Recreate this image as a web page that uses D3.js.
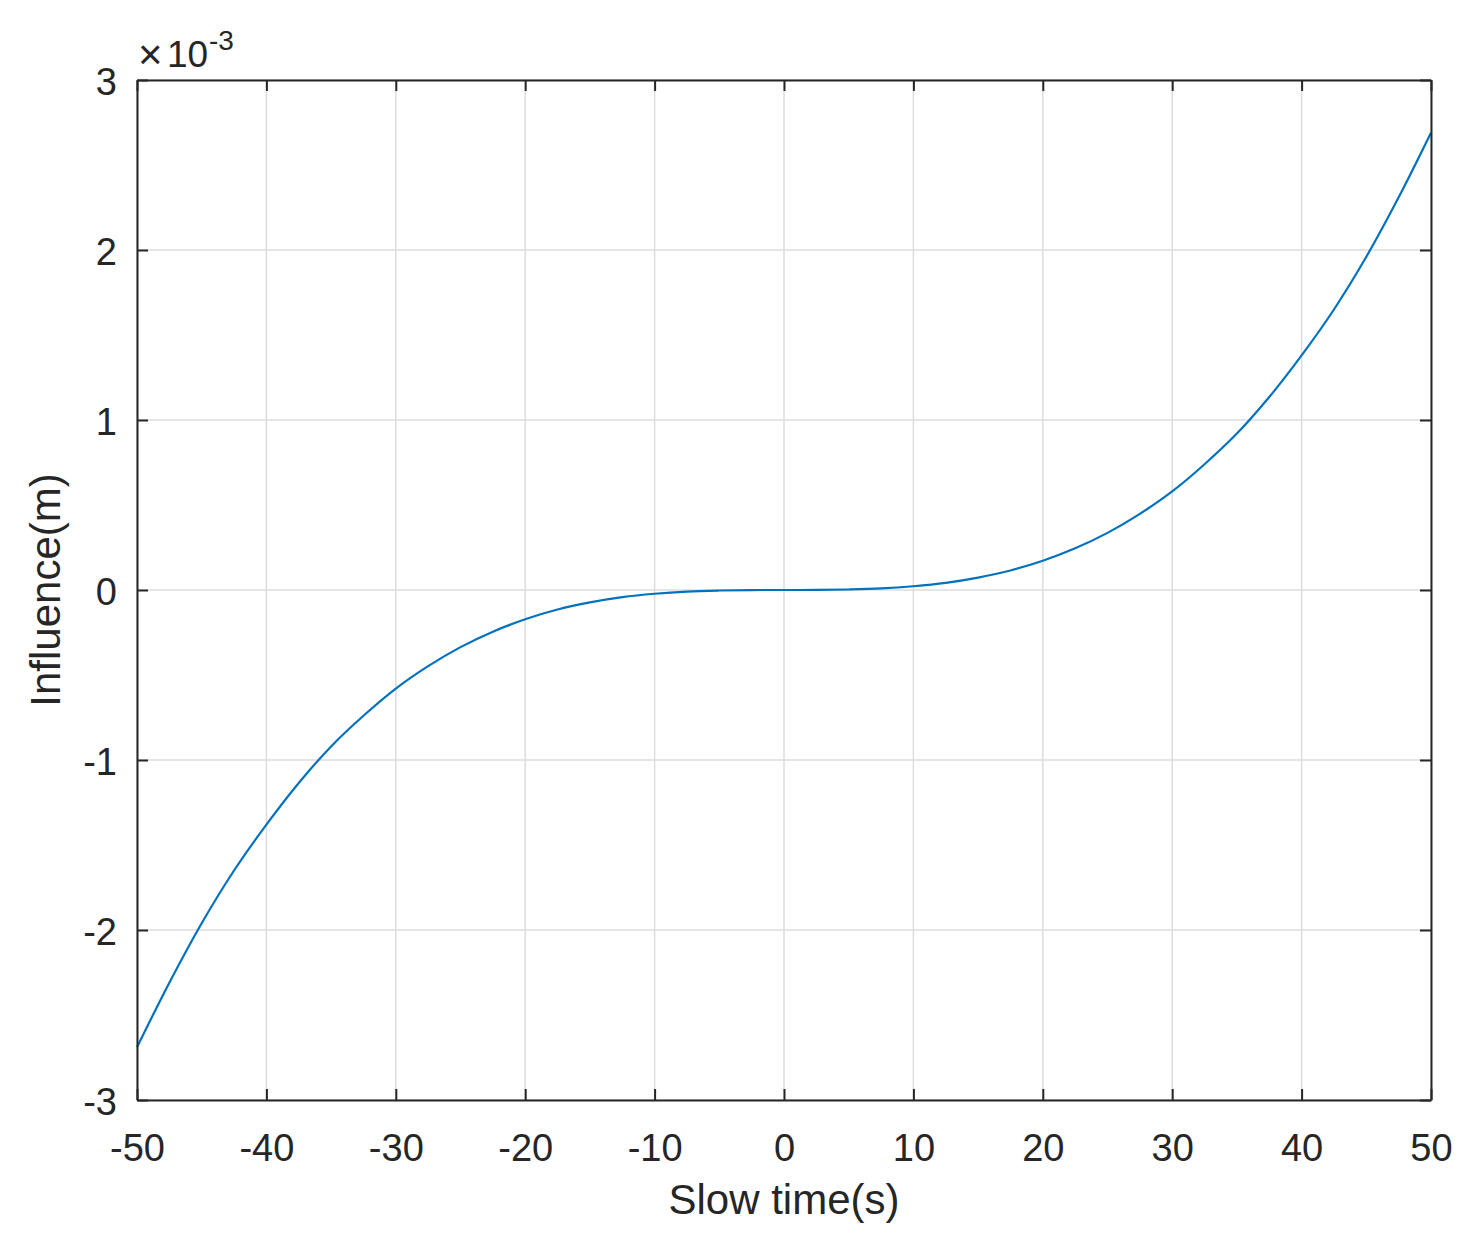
<!DOCTYPE html>
<html>
<head>
<meta charset="utf-8">
<script src="https://cdn.jsdelivr.net/npm/d3@7"></script>
<style>
  html, body { margin: 0; padding: 0; background: #fff; }
  svg { display: block; }
  text { font-family: "Liberation Sans", Arial, Helvetica, sans-serif; fill: #262626; }
</style>
</head>
<body>
<svg id="chart" width="1482" height="1240"></svg>
<script>
// Slow time (s)
const times = [-50, -47.5, -45, -42.5, -40, -37.5, -35, -32.5, -30, -27.5, -25, -22.5, -20, -17.5, -15, -12.5, -10, -7.5, -5, -2.5,
  0, 2.5, 5, 7.5, 10, 12.5, 15, 17.5, 20, 22.5, 25, 27.5, 30, 32.5, 35, 37.5, 40, 42.5, 45, 47.5, 50];
// Influence (×10^-3 m)
const influence = [-2.69, -2.31, -1.96, -1.65, -1.38, -1.135, -0.92, -0.74, -0.58, -0.448, -0.336, -0.245, -0.172, -0.115, -0.073, -0.042, -0.022, -0.009, -0.003, -0.0003,
  0, 0.0003, 0.003, 0.009, 0.022, 0.042, 0.073, 0.115, 0.172, 0.245, 0.336, 0.448, 0.58, 0.74, 0.92, 1.135, 1.38, 1.65, 1.96, 2.31, 2.69];
const xTicks = [-50, -40, -30, -20, -10, 0, 10, 20, 30, 40, 50];
const yTicks = [-3, -2, -1, 0, 1, 2, 3];

(function () {
const pL = 137, pR = 1431, pT = 80, pB = 1100;
const svg = d3.select("#chart");
const x = d3.scaleLinear().domain([-50, 50]).range([pL, pR]);
const y = d3.scaleLinear().domain([-3, 3]).range([pB, pT]);

const axisColor = "#262626";
const tickLen = 11;

// grid
const grid = svg.append("g");
grid.selectAll("line.gx").data(xTicks).join("line").attr("class", "gx")
  .attr("x1", d => x(d)).attr("x2", d => x(d)).attr("y1", pT).attr("y2", pB)
  .attr("stroke", "#dcdcdc").attr("stroke-width", 1.5);
grid.selectAll("line.gy").data(yTicks).join("line").attr("class", "gy")
  .attr("y1", d => y(d)).attr("y2", d => y(d)).attr("x1", pL).attr("x2", pR)
  .attr("stroke", "#dcdcdc").attr("stroke-width", 1.5);

// curve
const data = times.map((t, i) => [t, influence[i]]);
svg.append("path").datum(data)
  .attr("fill", "none").attr("stroke", "#0072BD").attr("stroke-width", 2.2)
  .attr("d", d3.line().x(d => x(d[0])).y(d => y(d[1])).curve(d3.curveCatmullRom));

// axes (inward ticks on all sides)
const fmt = d => String(d);
const gb = svg.append("g").attr("transform", `translate(0,${pB})`)
  .call(d3.axisBottom(x).tickValues(xTicks).tickSizeInner(-tickLen).tickSizeOuter(0).tickPadding(0).tickFormat(fmt));
const gt = svg.append("g").attr("transform", `translate(0,${pT})`)
  .call(d3.axisTop(x).tickValues(xTicks).tickSizeInner(-tickLen).tickSizeOuter(0).tickFormat(""));
const gl = svg.append("g").attr("transform", `translate(${pL},0)`)
  .call(d3.axisLeft(y).tickValues(yTicks).tickSizeInner(-tickLen).tickSizeOuter(0).tickPadding(0).tickFormat(fmt));
const gr = svg.append("g").attr("transform", `translate(${pR},0)`)
  .call(d3.axisRight(y).tickValues(yTicks).tickSizeInner(-tickLen).tickSizeOuter(0).tickFormat(""));

[gb, gt, gl, gr].forEach(g => {
  g.select(".domain").attr("stroke", axisColor).attr("stroke-width", 2);
  g.selectAll(".tick line").attr("stroke", axisColor).attr("stroke-width", 2);
});

gb.selectAll(".tick text")
  .attr("y", 0).attr("dy", 0)
  .attr("transform", "translate(0,61)")
  .style("font-size", "38px").style("font-family", "'Liberation Sans', Arial, sans-serif")
  .attr("fill", axisColor).attr("text-anchor", "middle");
gl.selectAll(".tick text")
  .attr("x", 0).attr("dy", 0)
  .attr("transform", "translate(-20,14)")
  .style("font-size", "38px").style("font-family", "'Liberation Sans', Arial, sans-serif")
  .attr("fill", axisColor).attr("text-anchor", "end");

// axis labels
svg.append("text").attr("x", (pL + pR) / 2).attr("y", 1214)
  .attr("text-anchor", "middle").style("font-size", "42px").text("Slow time(s)");
svg.append("text").attr("transform", `translate(60,${(pT + pB) / 2}) rotate(-90)`)
  .attr("text-anchor", "middle").style("font-size", "42px").text("Influence(m)");

// exponent label
svg.append("text").attr("x", 138).attr("y", 69).style("font-size", "42px").style("font-weight", "300").attr("fill", "#555").text("\u00d7");
svg.append("text").attr("x", 167).attr("y", 67).style("font-size", "37px").text("10");
svg.append("text").attr("x", 209).attr("y", 50).style("font-size", "28px").text("-3");
})();
</script>
</body>
</html>
